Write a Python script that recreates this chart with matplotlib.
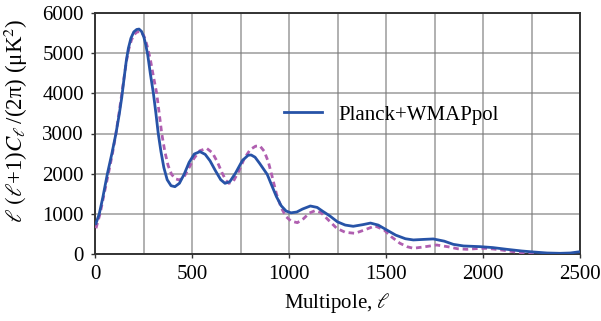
import matplotlib
matplotlib.use("Agg")
import matplotlib.pyplot as plt
from matplotlib.ticker import MultipleLocator

# CMB temperature power spectrum: best-fit model and comparison model
ell_fit = [5, 22, 40, 64, 87, 108, 125, 138, 150, 161, 172, 185, 200, 215, 227, 240,
           252, 262, 272, 285, 301, 314, 326, 340, 355, 372, 392, 412, 435, 460, 485,
           512, 541, 568, 593, 620, 648, 670, 695, 725, 760, 790, 805, 825, 848, 868,
           888, 910, 935, 960, 985, 1010, 1040, 1070, 1110, 1145, 1175, 1211, 1250, 1290,
           1331, 1380, 1420, 1460, 1503, 1550, 1600, 1641, 1700, 1744, 1800, 1847, 1900,
           1985, 2050, 2122, 2200, 2260, 2330, 2397, 2450, 2500]
dl_fit = [760, 1000, 1400, 2000, 2500, 3000, 3480, 3900, 4380, 4800, 5120, 5370, 5530,
          5590, 5600, 5540, 5400, 5200, 4950, 4500, 4000, 3500, 3000, 2550, 2150, 1850,
          1700, 1676, 1760, 1990, 2280, 2490, 2548, 2480, 2320, 2080, 1850, 1760, 1800,
          2020, 2330, 2460, 2465, 2410, 2260, 2120, 1980, 1720, 1430, 1200, 1070, 1025,
          1045, 1120, 1195, 1160, 1060, 946, 800, 720, 690, 730, 770, 720, 600, 470, 380,
          350, 365, 375, 320, 240, 200, 183, 160, 117, 75, 50, 25, 17, 25, 57]

ell_alt = [5, 26, 45, 69, 90, 108, 122, 137, 150, 162, 174, 188, 203, 218, 235, 250,
           262, 273, 285, 300, 318, 331, 344, 360, 377, 395, 415, 435, 460, 485, 510,
           540, 576, 605, 630, 655, 675, 690, 712, 740, 770, 800, 828, 850, 872, 893,
           912, 935, 960, 985, 1010, 1043, 1075, 1105, 1135, 1165, 1200, 1246, 1290,
           1340, 1390, 1443, 1490, 1530, 1572, 1610, 1641, 1700, 1761, 1820, 1870, 1916,
           1970, 2019, 2080, 2156, 2220, 2277]
dl_alt = [640, 1000, 1450, 2000, 2500, 3000, 3450, 3950, 4400, 4800, 5100, 5330, 5470,
          5530, 5535, 5450, 5300, 5100, 4850, 4450, 4000, 3500, 3000, 2550, 2200, 1980,
          1870, 1843, 1930, 2150, 2380, 2570, 2630, 2520, 2300, 2020, 1830, 1760, 1800,
          2050, 2380, 2600, 2685, 2690, 2560, 2300, 1950, 1500, 1150, 930, 820, 780, 880,
          1020, 1080, 1030, 860, 640, 540, 515, 600, 700, 600, 420, 266, 180, 142, 180,
          224, 180, 130, 117, 135, 142, 110, 58, 20, 0]

x_ticks = [0, 500, 1000, 1500, 2000, 2500]
y_ticks = [0, 1000, 2000, 3000, 4000, 5000, 6000]

plt.rcParams["font.family"] = ["Liberation Serif", "DejaVu Serif"]
plt.rcParams["mathtext.fontset"] = "stix"
plt.rcParams["font.size"] = 15

fig = plt.figure(figsize=(6.01, 3.21), dpi=100)
ax = fig.add_axes([95 / 601, 1 - 254 / 321, 485 / 601, 241 / 321])

ax.plot(ell_alt, dl_alt, color="#b05fb0", lw=2.0, dashes=(2.0, 1.4), zorder=3)
ax.plot(ell_fit, dl_fit, color="#2753a7", lw=2.0, label="Planck+WMAPpol", zorder=4)

ax.set_xlim(0, 2500)
ax.set_ylim(0, 6000)
ax.set_xticks(x_ticks)
ax.set_yticks(y_ticks)
ax.xaxis.set_minor_locator(MultipleLocator(250))
ax.grid(True, which="both", color="#7a7a7a", lw=1.1, alpha=0.75, zorder=1)
ax.tick_params(which="major", direction="out", length=3, width=1, color="#333333",
               pad=5, labelsize=15)
ax.tick_params(which="minor", length=0)
for s in ax.spines.values():
    s.set_color("#333333")
    s.set_linewidth(1.4)

ax.set_xlabel(r"Multipole, $\ell$", fontsize=15, labelpad=5)
ax.set_ylabel(r"$\ell\ (\ell$+1)$C_\ell\,$/(2π) (μK$^2$)", fontsize=16.5)
ax.yaxis.set_label_coords(-0.135, 0.555)

ax.legend(loc="center left", bbox_to_anchor=(0.39, 0.577), frameon=False,
          handlelength=1.8, handletextpad=0.8, borderpad=0, borderaxespad=0,
          fontsize=15)

fig.savefig("out.png", dpi=100)
